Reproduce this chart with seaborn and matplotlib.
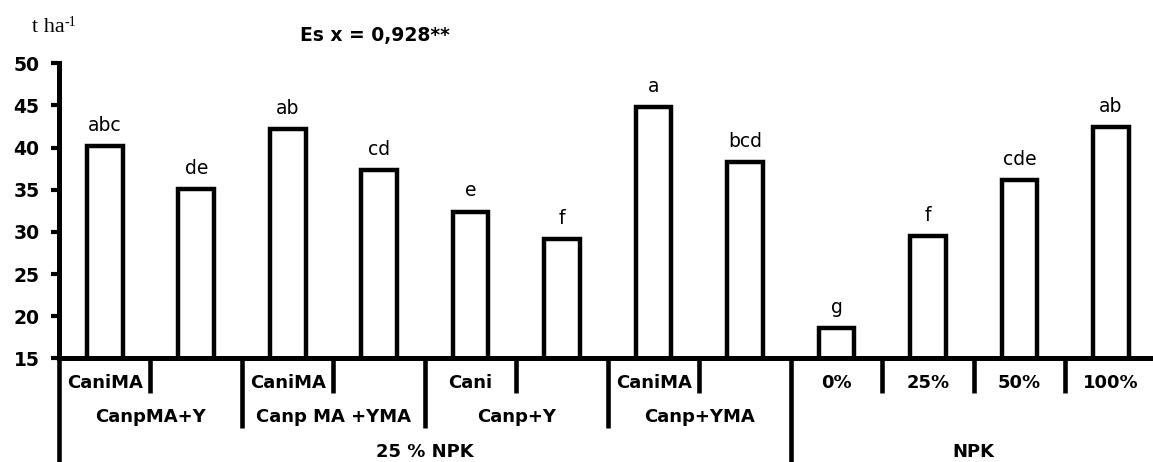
import numpy as np
import pandas as pd
import matplotlib
matplotlib.use("Agg")
import matplotlib.pyplot as plt
import matplotlib.transforms as mtransforms
import seaborn as sns

# Multi-level treatment labels (row 1 = innermost level)
level1 = ["CaniMA", "", "CaniMA", "", "Cani", "", "CaniMA", "", "0%", "25%", "50%", "100%"]
level2 = ["CanpMA+Y", "CanpMA+Y", "Canp MA +YMA", "Canp MA +YMA",
          "Canp+Y", "Canp+Y", "Canp+YMA", "Canp+YMA", "", "", "", ""]
level3 = ["25 % NPK"] * 8 + ["NPK"] * 4

# Yield (t/ha) and significance letters
yield_t_ha = [40.2, 35.1, 42.2, 37.3, 32.4, 29.1, 44.8, 38.3, 18.6, 29.5, 36.1, 42.4]
letters = ["abc", "de", "ab", "cd", "e", "f", "a", "bcd", "g", "f", "cde", "ab"]
y_ticks = [15, 20, 25, 30, 35, 40, 45, 50]
title_text = "Es x = 0,928**"
unit_text = "t ha"
unit_sup = "-1"

treatment = [" / ".join(t) for t in zip(level3, level2, level1)]
df = pd.DataFrame({"treatment": treatment, "yield": yield_t_ha})

sns.set_style("white")
plt.rcParams["font.family"] = ["DejaVu Sans"]
plt.rcParams["text.color"] = "black"
plt.rcParams["ytick.color"] = "black"
plt.rcParams["ytick.labelcolor"] = "black"
plt.rcParams["axes.edgecolor"] = "black"

W, H = 1153, 462
fig = plt.figure(figsize=(W / 100, H / 100), dpi=100)
ax = fig.add_axes([59 / W, 1 - 358.3 / H, 1094 / W, 295 / H])

sns.barplot(data=df, x="treatment", y="yield", order=treatment, ax=ax,
            color="white", edgecolor="black", linewidth=3.2, width=0.39,
            errorbar=None, saturation=1)

ax.set_ylim(15, 50)
ax.set_xlim(-0.5, 11.46)
ax.set_yticks(y_ticks)
ax.set_yticklabels([str(v) for v in y_ticks], fontsize=13.5, fontweight="bold",
                   color="black")
ax.tick_params(axis="y", direction="out", length=6, width=3, color="black", pad=8, left=True)
ax.tick_params(axis="x", bottom=False, labelbottom=False)
ax.set_xlabel("")
ax.set_ylabel("")
for side in ("top", "right"):
    ax.spines[side].set_visible(False)
for side in ("left", "bottom"):
    ax.spines[side].set_linewidth(3.6)
    ax.spines[side].set_color("black")

# Significance letters above each bar
for i, (v, s) in enumerate(zip(yield_t_ha, letters)):
    ax.annotate(s, (i, v), xytext=(0, 11), textcoords="offset points",
                ha="center", va="baseline", fontsize=13.5, color="black")

# Category table below the axis
blend = mtransforms.blended_transform_factory(ax.transData, ax.transAxes)
row_y = [-0.084, -0.199, -0.318]
row1_end, row2_end, full_end = -0.119, -0.237, -0.36
n = len(treatment)
for b in range(n):
    x = b - 0.5
    if b == 0 or level3[b - 1] != level3[b]:
        yend = full_end
    elif level2[b - 1] != level2[b]:
        yend = row2_end
    else:
        yend = row1_end
    ax.plot([x, x], [0, yend], transform=blend, clip_on=False,
            color="black", lw=3.3, solid_capstyle="butt")

lab_kw = dict(transform=blend, ha="center", va="center", fontsize=13,
              fontweight="bold", clip_on=False, color="black")
for i, s in enumerate(level1):
    if s:
        ax.text(i, row_y[0], s, **lab_kw)


def runs(labels):
    out = []
    start = 0
    for k in range(1, len(labels) + 1):
        if k == len(labels) or labels[k] != labels[start]:
            out.append((labels[start], start, k - 1))
            start = k
    return out


for s, a, b in runs(level2):
    if s:
        ax.text((a + b) / 2, row_y[1], s, **lab_kw)
for s, a, b in runs(level3):
    ax.text((a + b) / 2, row_y[2], s, **lab_kw)

# Title and unit
fig.text(374.5 / W, 1 - 36 / H, title_text, ha="center", va="center",
         fontsize=13.5, fontweight="bold", color="black")
unit = fig.text(32 / W, 1 - 31.7 / H, unit_text, family="Liberation Serif",
                fontsize=16, va="baseline", ha="left", color="black")
ax.annotate(unit_sup, xy=(1.0, 0.55), xycoords=unit, family="Liberation Serif",
            fontsize=10, va="baseline", ha="left", annotation_clip=False,
            color="black")

fig.savefig("out.png", dpi=100, facecolor="white")
